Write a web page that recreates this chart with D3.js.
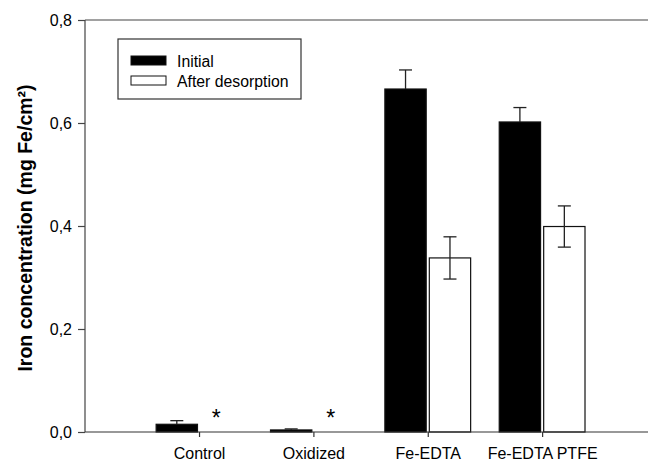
<!DOCTYPE html>
<html>
<head>
<meta charset="utf-8">
<script src="https://cdn.jsdelivr.net/npm/d3@7"></script>
<style>
  body { margin: 0; background: #fff; }
  svg { display: block; font-family: "Liberation Sans", Arial, sans-serif; }
</style>
</head>
<body>
<script>
// data
var categories = ["Control", "Oxidized", "Fe-EDTA", "Fe-EDTA PTFE"];
var series = ["Initial", "After desorption"];
var initialValues = [0.015, 0.004, 0.666, 0.602];
var initialErrors = [0.007, 0.002, 0.037, 0.028];
var afterValues = [0, 0, 0.338, 0.399];
var afterErrors = [0, 0, 0.041, 0.040];
var afterMarks = ["*", "*", "", ""];   // not detected
var yTicks = [0, 0.2, 0.4, 0.6, 0.8];

var W = 648, H = 463;
var plotLeft = 85, plotTop = 20, plotBottom = 432;

var svg = d3.select("body").append("svg")
    .attr("width", W)
    .attr("height", H);

var y = d3.scaleLinear().domain([0, 0.8]).range([plotBottom, plotTop]);

var x0 = d3.scaleBand()
    .domain(categories)
    .range([141.85, 599.3])
    .paddingInner(0.25)
    .paddingOuter(0.125);

var x1 = d3.scaleBand()
    .domain(series)
    .range([0, x0.bandwidth()])
    .paddingInner(0.07);

var fmt = function (d) { return d3.format(".1f")(d).replace(".", ","); };

// top frame line
svg.append("line")
    .attr("x1", plotLeft).attr("x2", W).attr("y1", plotTop).attr("y2", plotTop)
    .attr("stroke", "#444").attr("stroke-width", 1.2);

var rows = categories.map(function (c, i) {
    return [
        {cat: c, s: series[0], v: initialValues[i], e: initialErrors[i]},
        {cat: c, s: series[1], v: afterValues[i], e: afterErrors[i], mark: afterMarks[i]}
    ];
});

var groups = svg.selectAll(".grp")
    .data(rows)
    .enter().append("g")
    .attr("class", "grp")
    .attr("transform", function (d) { return "translate(" + x0(d[0].cat) + ",0)"; });

groups.selectAll("rect")
    .data(function (d) { return d.filter(function (b) { return b.v > 0; }); })
    .enter().append("rect")
    .attr("x", function (d) { return x1(d.s); })
    .attr("y", function (d) { return y(d.v); })
    .attr("width", x1.bandwidth())
    .attr("height", function (d) { return y(0) - y(d.v); })
    .attr("fill", function (d) { return d.s === "Initial" ? "#000" : "#fff"; })
    .attr("stroke", "#111")
    .attr("stroke-width", 1.2);

// error bars (lower half is hidden inside the black bars)
var errs = groups.selectAll(".err")
    .data(function (d) { return d.filter(function (b) { return b.e > 0; }); })
    .enter().append("g")
    .attr("class", "err")
    .attr("transform", function (d) { return "translate(" + (x1(d.s) + x1.bandwidth() / 2) + ",0)"; });

errs.append("line")
    .attr("y1", function (d) { return d.s === "Initial" ? y(d.v) : y(d.v - d.e); })
    .attr("y2", function (d) { return y(d.v + d.e); })
    .attr("stroke", "#222").attr("stroke-width", 1.3);
errs.append("line")
    .attr("x1", -6.5).attr("x2", 6.5)
    .attr("y1", function (d) { return y(d.v + d.e); })
    .attr("y2", function (d) { return y(d.v + d.e); })
    .attr("stroke", "#222").attr("stroke-width", 1.3);
errs.filter(function (d) { return d.s !== "Initial"; })
    .append("line")
    .attr("x1", -6.5).attr("x2", 6.5)
    .attr("y1", function (d) { return y(d.v - d.e); })
    .attr("y2", function (d) { return y(d.v - d.e); })
    .attr("stroke", "#222").attr("stroke-width", 1.3);

// asterisks for not detected
groups.selectAll(".mark")
    .data(function (d) { return d.filter(function (b) { return b.mark; }); })
    .enter().append("text")
    .attr("class", "mark")
    .attr("x", function (d) { return x1(d.s) + x1.bandwidth() / 2 - 5; })
    .attr("y", y(0) - 6)
    .attr("text-anchor", "middle")
    .attr("font-size", 23)
    .text(function (d) { return d.mark; });

// y axis
var yAxis = svg.append("g")
    .attr("transform", "translate(" + plotLeft + ",0)")
    .call(d3.axisLeft(y).tickValues(yTicks).tickFormat(fmt).tickSize(7).tickPadding(6));
yAxis.select(".domain").attr("stroke", "#444").attr("stroke-width", 1.2).attr("d", "M0," + plotTop + "V" + plotBottom);
yAxis.selectAll(".tick line").attr("stroke", "#444").attr("stroke-width", 1.2);
yAxis.selectAll("text").attr("font-size", 16).attr("fill", "#000")
    .attr("font-family", "Liberation Sans, Arial, sans-serif");

// x axis
var xAxis = svg.append("g")
    .attr("transform", "translate(0," + plotBottom + ")")
    .call(d3.axisBottom(d3.scalePoint().domain(categories)
        .range([x0(categories[0]) + x0.bandwidth() / 2, x0(categories[3]) + x0.bandwidth() / 2]))
        .tickSize(5).tickPadding(11));
xAxis.select(".domain").attr("stroke", "#333").attr("stroke-width", 1.2).attr("d", "M" + plotLeft + ",0H" + W);
xAxis.selectAll(".tick line").attr("stroke", "#333").attr("stroke-width", 1.2);
xAxis.selectAll("text").attr("font-size", 16).attr("fill", "#000")
    .attr("font-family", "Liberation Sans, Arial, sans-serif");

// y title
svg.append("text")
    .attr("transform", "translate(32,228) rotate(-90)")
    .attr("text-anchor", "middle")
    .attr("font-size", 19.5)
    .attr("font-weight", "bold")
    .text("Iron concentration (mg Fe/cm²)");

// legend
var lg = svg.append("g").attr("transform", "translate(118,39)");
lg.append("rect")
    .attr("width", 183).attr("height", 60)
    .attr("fill", "#fff").attr("stroke", "#333").attr("stroke-width", 1.2);
var items = lg.selectAll(".item")
    .data(series)
    .enter().append("g")
    .attr("class", "item")
    .attr("transform", function (d, i) { return "translate(13," + (17 + i * 20) + ")"; });
items.append("rect")
    .attr("width", 35).attr("height", 9)
    .attr("fill", function (d, i) { return i === 0 ? "#000" : "#fff"; })
    .attr("stroke", "#111").attr("stroke-width", 1);
items.append("text")
    .attr("x", 46).attr("y", 10.5)
    .attr("font-size", 15.8)
    .text(function (d) { return d; });
</script>
</body>
</html>
